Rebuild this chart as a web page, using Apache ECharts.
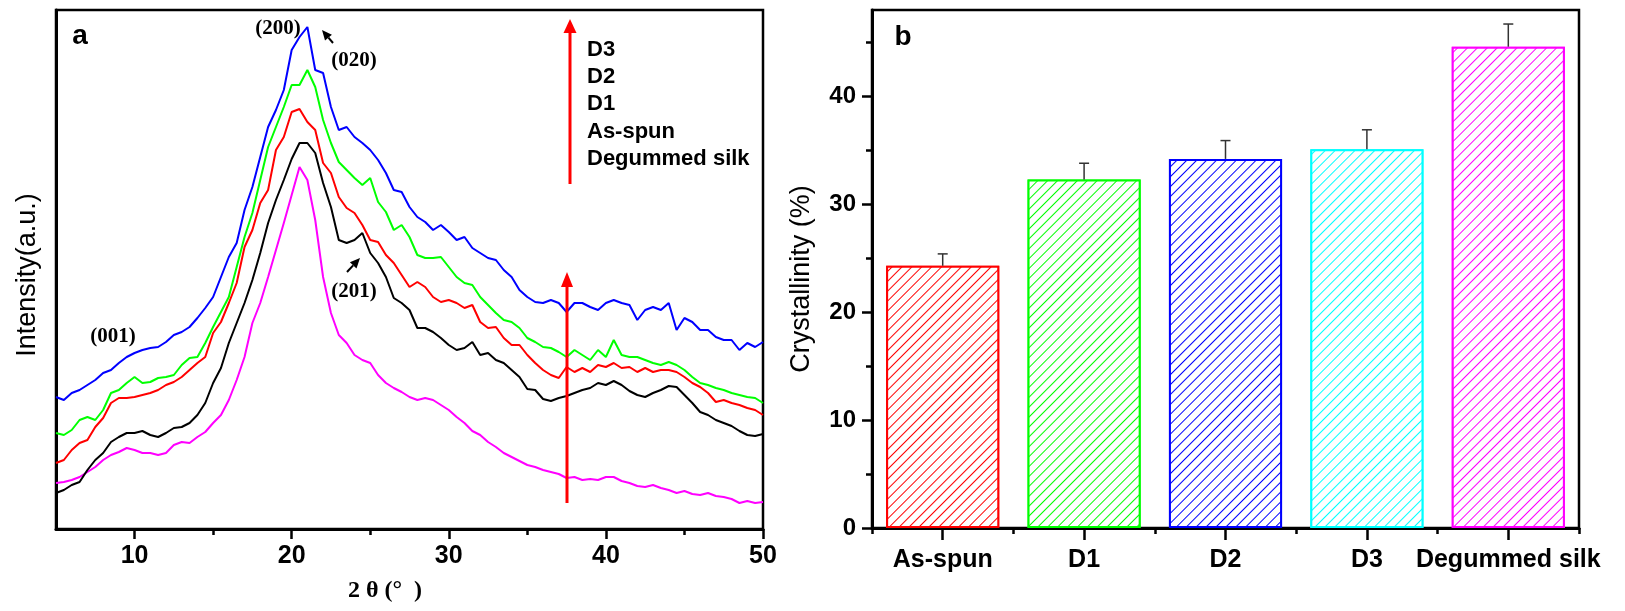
<!DOCTYPE html>
<html>
<head>
<meta charset="utf-8">
<script src="https://cdn.jsdelivr.net/npm/echarts@6/dist/echarts.min.js"></script>
<style>
html,body{margin:0;padding:0;background:#fff;}
#chart{width:1625px;height:611px;}
</style>
</head>
<body>
<div id="chart"></div>
<script>
// ---------- Panel a: XRD patterns (intensity in arbitrary units) ----------
const twoTheta = [5,5.5,6,6.5,7,7.5,8,8.5,9,9.5,10,10.5,11,11.5,12,12.5,13,13.5,14,14.5,15,15.5,16,16.5,17,17.5,18,18.5,19,19.5,20,20.5,21,21.5,22,22.5,23,23.5,24,24.5,25,25.5,26,26.5,27,27.5,28,28.5,29,29.5,30,30.5,31,31.5,32,32.5,33,33.5,34,34.5,35,35.5,36,36.5,37,37.5,38,38.5,39,39.5,40,40.5,41,41.5,42,42.5,43,43.5,44,44.5,45,45.5,46,46.5,47,47.5,48,48.5,49,49.5,50];

const intensityD3 = [132,129,136,139,144,149,156,159,166,172,
 176,179,181,182,187,194,197,202,211,221,
 232,252,272,286,319,342,372,402,419,439,
 479,492,502,459,456,422,399,402,392,386,
 379,369,356,339,337,322,312,307,299,304,
 297,289,292,281,276,271,269,259,252,239,
 232,227,226,229,226,217,226,226,222,219,
 226,229,226,224,209,219,222,219,226,199,
 211,207,199,199,192,189,189,179,186,182,
 187];

const intensityD2 = [96,94,99,109,112,109,119,136,139,146,
 152,146,147,151,152,154,164,171,172,186,
 202,217,232,262,292,316,349,382,402,422,
 444,444,459,442,409,386,367,359,351,344,
 351,327,317,299,304,292,274,271,271,272,
 262,252,246,244,232,224,216,209,207,201,
 191,187,182,181,177,172,179,174,169,179,
 172,189,174,172,172,169,166,164,167,164,
 159,152,146,144,141,139,136,134,132,131,
 126];

const intensityD1 = [66,69,79,86,89,102,111,126,131,131,
 132,134,136,139,144,147,152,159,166,172,
 196,207,226,246,282,299,326,339,379,392,
 417,420,407,399,366,356,332,321,316,304,
 289,287,274,266,254,242,247,242,232,227,
 229,226,221,224,207,201,202,191,184,184,
 174,166,159,154,151,162,157,161,157,164,
 162,166,161,162,157,161,157,159,159,157,
 152,146,142,136,127,129,126,124,121,119,
 114];

const intensityAsSpun = [36,39,44,47,59,69,76,87,92,96,
 96,98,94,92,96,101,102,106,114,126,
 146,161,186,206,226,249,276,306,329,349,
 370,386,386,376,346,322,289,286,289,296,
 276,266,252,231,226,219,201,201,197,191,
 184,179,181,187,174,176,169,166,159,152,
 140,139,130,128,131,133,136,139,141,146,
 144,148,144,138,134,132,136,139,143,142,
 134,126,117,114,109,106,103,98,94,93,
 95];

const intensityDegummed = [46,47,49,52,57,62,69,74,77,81,
 79,76,76,74,76,84,87,86,92,97,
 106,114,129,149,172,206,226,252,279,306,
 334,362,349,309,252,216,194,186,174,169,
 166,154,146,141,137,132,129,131,129,124,
 119,112,106,98,94,87,82,76,72,68,
 64,62,59,57,55,51,52,49,50,49,
 52,52,48,46,43,42,44,41,39,36,
 38,35,34,36,33,32,30,26,28,26,
 27];

const xrdTickLabels = [10, 20, 30, 40, 50];
const xrdMinorTicks = [15, 25, 35, 45];
const xrdLegendLines = ['D3', 'D2', 'D1', 'As-spun', 'Degummed silk'];

// ---------- Panel b: crystallinity ----------
const barCategories = ['As-spun', 'D1', 'D2', 'D3', 'Degummed silk'];
const crystallinity = [24.3, 32.3, 34.2, 35.1, 44.6];
const crystallinityErr = [1.1, 1.5, 1.7, 1.8, 2.1];
const crystTickLabels = [0, 10, 20, 30, 40];
const crystMinorTicks = [5, 15, 25, 35, 45];

// ---------- styles ----------
const lineColors = {D3:'#0000ff', D2:'#00ff00', D1:'#ff0000', AsSpun:'#000000', Degummed:'#ff00ff'};
const barColors = ['#ff0000', '#00ff00', '#0000ff', '#00ffff', '#ff00ff'];
const SANS = '"Liberation Sans", Arial, sans-serif';
const SERIF = '"Liberation Serif", "Times New Roman", serif';

function pairs(arr){ return twoTheta.map((t, i) => [t, arr[i]]); }
function lineSeries(name, arr, color){
  return {
    name, type:'line', xAxisIndex:0, yAxisIndex:0,
    data: pairs(arr), showSymbol:false, symbol:'none',
    lineStyle:{color, width:2}, itemStyle:{color}, silent:true, z:3
  };
}

const chart = echarts.init(document.getElementById('chart'), null, {renderer:'canvas'});

const barData = crystallinity.map((v, i) => ({
  value: v,
  itemStyle: {
    color: '#ffffff',
    borderColor: barColors[i],
    borderWidth: 2,
    decal: {
      symbol: 'rect', symbolSize: 1,
      dashArrayX: [1, 0], dashArrayY: [1, 6],
      rotation: -Math.PI / 4,
      color: barColors[i],
      backgroundColor: '#ffffff'
    }
  }
}));
const errData = crystallinity.map((v, i) => [i, v, v + crystallinityErr[i]]);

function renderErr(params, api){
  const base = api.coord([api.value(0), api.value(1)]);
  const top = api.coord([api.value(0), api.value(2)]);
  const hw = 5;
  const st = {stroke:'#333333', lineWidth:1.5};
  return {type:'group', children:[
    {type:'line', shape:{x1:base[0], y1:base[1], x2:top[0], y2:top[1]}, style:st},
    {type:'line', shape:{x1:top[0]-hw, y1:top[1], x2:top[0]+hw, y2:top[1]}, style:st}
  ]};
}

function arrow(tip, tail, headLen, headHalf, color, width){
  const dx = tip[0]-tail[0], dy = tip[1]-tail[1];
  const L = Math.sqrt(dx*dx+dy*dy);
  const ux = dx/L, uy = dy/L;
  const bx = tip[0]-headLen*ux, by = tip[1]-headLen*uy;
  const nx = -uy, ny = ux;
  return [
    {type:'line', shape:{x1:tail[0], y1:tail[1], x2:bx, y2:by}, style:{stroke:color, lineWidth:width}, z:50},
    {type:'polygon', shape:{points:[tip,[bx+headHalf*nx, by+headHalf*ny],[bx-headHalf*nx, by-headHalf*ny]]}, style:{fill:color}, z:50}
  ];
}

const graphics = [
  {type:'text', x:80, y:36, style:{text:'a', font:'bold 28px '+SANS, fill:'#000', align:'center', verticalAlign:'middle'}, z:50},
  {type:'text', x:903, y:37, style:{text:'b', font:'bold 28px '+SANS, fill:'#000', align:'center', verticalAlign:'middle'}, z:50},
  {type:'text', x:278, y:29, style:{text:'(200)', font:'bold 21px '+SERIF, fill:'#000', align:'center', verticalAlign:'middle'}, z:50},
  {type:'text', x:354, y:61, style:{text:'(020)', font:'bold 21px '+SERIF, fill:'#000', align:'center', verticalAlign:'middle'}, z:50},
  {type:'text', x:354, y:292, style:{text:'(201)', font:'bold 21px '+SERIF, fill:'#000', align:'center', verticalAlign:'middle'}, z:50},
  {type:'text', x:113, y:337, style:{text:'(001)', font:'bold 21px '+SERIF, fill:'#000', align:'center', verticalAlign:'middle'}, z:50},
  // axis titles
  {type:'text', x:28, y:275, rotation:Math.PI/2, style:{text:'Intensity(a.u.)', font:'27px '+SANS, fill:'#000', align:'center', verticalAlign:'middle'}, z:50},
  {type:'text', x:385, y:591, style:{text:'2 θ (°  )', font:'bold 24px '+SERIF, fill:'#000', align:'center', verticalAlign:'middle'}, z:50},
  {type:'text', x:802, y:279, rotation:Math.PI/2, style:{text:'Crystallinity (%)', font:'27px '+SANS, fill:'#000', align:'center', verticalAlign:'middle'}, z:50}
];
xrdLegendLines.forEach((t, i) => {
  graphics.push({type:'text', x:587, y:50 + i*27.2, style:{text:t, font:'bold 22px '+SANS, fill:'#000', align:'left', verticalAlign:'middle'}, z:50});
});
graphics.push(...arrow([570,19],[570,184],14,6.5,'#ff0000',3));
graphics.push(...arrow([567,272],[567,503],15,6,'#ff0000',3));
graphics.push(...arrow([322,30],[333,43],10,4.5,'#000000',2));
graphics.push(...arrow([360,258],[347,272],10,4.5,'#000000',2));

const axisLabelFont = {fontFamily:SANS, fontWeight:'bold', color:'#000'};

const option = {
  animation:false,
  backgroundColor:'#ffffff',
  grid:[
    {left:56, top:10, width:707, height:519, show:true, borderColor:'#000', borderWidth:2.5, backgroundColor:'transparent'},
    {left:872, top:10, width:707, height:518, show:true, borderColor:'#000', borderWidth:2.5, backgroundColor:'transparent'}
  ],
  xAxis:[
    {type:'value', gridIndex:0, position:'bottom', min:5, max:50,
     axisLine:{show:true, lineStyle:{color:'#000', width:3}},
     axisTick:{show:true, length:10, customValues:xrdTickLabels, lineStyle:{color:'#000', width:2.5}},
     axisLabel:Object.assign({fontSize:25, margin:15, customValues:xrdTickLabels}, axisLabelFont),
     splitLine:{show:false}},
    {type:'value', gridIndex:0, position:'bottom', min:5, max:50,
     axisLine:{show:false},
     axisTick:{show:true, length:6, customValues:xrdMinorTicks, lineStyle:{color:'#000', width:2.5}},
     axisLabel:{show:false}, splitLine:{show:false}},
    {type:'category', gridIndex:1, position:'bottom', data:barCategories, boundaryGap:true,
     axisLine:{show:true, lineStyle:{color:'#000', width:3}},
     axisTick:{show:true, alignWithLabel:true, length:12, lineStyle:{color:'#000', width:2.5}},
     axisLabel:Object.assign({fontSize:25, margin:20, interval:0}, axisLabelFont),
     splitLine:{show:false}},
    {type:'category', gridIndex:1, position:'bottom', data:barCategories, boundaryGap:true,
     axisLine:{show:false},
     axisTick:{show:true, alignWithLabel:false, length:6, interval:0, lineStyle:{color:'#000', width:2.5}},
     axisLabel:{show:false}, splitLine:{show:false}}
  ],
  yAxis:[
    {type:'value', gridIndex:0, position:'left', min:0, max:519,
     axisLine:{show:true, lineStyle:{color:'#000', width:3}},
     axisTick:{show:false}, axisLabel:{show:false}, splitLine:{show:false}},
    {type:'value', gridIndex:1, position:'left', min:0, max:48,
     axisLine:{show:true, lineStyle:{color:'#000', width:3}},
     axisTick:{show:true, length:10, customValues:crystTickLabels, lineStyle:{color:'#000', width:2.5}},
     axisLabel:Object.assign({fontSize:24, margin:16, customValues:crystTickLabels}, axisLabelFont),
     splitLine:{show:false}},
    {type:'value', gridIndex:1, position:'left', min:0, max:48,
     axisLine:{show:false},
     axisTick:{show:true, length:6, customValues:crystMinorTicks, lineStyle:{color:'#000', width:2.5}},
     axisLabel:{show:false}, splitLine:{show:false}}
  ],
  series:[
    lineSeries('Degummed silk', intensityDegummed, lineColors.Degummed),
    lineSeries('As-spun', intensityAsSpun, lineColors.AsSpun),
    lineSeries('D1', intensityD1, lineColors.D1),
    lineSeries('D2', intensityD2, lineColors.D2),
    lineSeries('D3', intensityD3, lineColors.D3),
    {name:'Crystallinity', type:'bar', xAxisIndex:2, yAxisIndex:1, data:barData, barWidth:'80%', silent:true, z:2},
    {name:'Error', type:'custom', xAxisIndex:2, yAxisIndex:1, data:errData, renderItem:renderErr, silent:true, z:4}
  ],
  graphic: graphics
};
chart.setOption(option);
</script>
</body>
</html>
